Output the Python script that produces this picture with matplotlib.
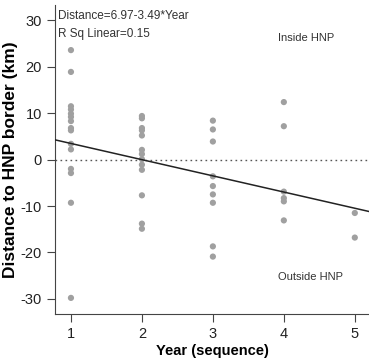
import numpy as np
import matplotlib.pyplot as plt

plt.rcParams['font.family'] = ['Liberation Sans', 'DejaVu Sans']
plt.rcParams['axes.unicode_minus'] = False

# values
year1 = [23.6, 18.9, 11.5, 10.8, 9.9, 9.2, 8.3, 6.8, 6.3, 3.4, 2.2, -2.0, -2.9, -9.3, -29.8]
year2 = [9.4, 8.9, 6.8, 6.3, 5.2, 2.1, 1.2, 0.1, -1.1, -2.2, -7.7, -13.8, -14.9]
year3 = [8.4, 6.5, 3.9, -3.6, -5.7, -7.5, -9.3, -18.7, -20.9]
year4 = [12.4, 7.2, -6.9, -8.3, -9.0, -13.1]
year5 = [-11.5, -16.8]
intercept = 6.97
slope = -3.49
r_sq = 0.15

groups = [year1, year2, year3, year4, year5]
xs = np.concatenate([[i + 1] * len(g) for i, g in enumerate(groups)])
ys = np.concatenate(groups)

fig = plt.figure(figsize=(3.69, 3.64), dpi=100)
ax = fig.add_axes([0.149, 0.137, 0.851, 0.849])

ax.scatter(xs, ys, s=20, color='#a0a0a0', edgecolors='none', zorder=3)
ax.axhline(0, color='#555555', lw=1, ls=(0, (1.2, 2.4)), zorder=2)

xl = (0.775, 5.2)
xx = np.array(xl)
ax.plot(xx, intercept + slope * xx, color='#222222', lw=1.1, zorder=4)

ax.set_xlim(xl)
ax.set_ylim(-33.3, 33.3)
ax.set_xticks([1, 2, 3, 4, 5])
ax.set_yticks([-30, -20, -10, 0, 10, 20, 30])

for s in ['top', 'right']:
    ax.spines[s].set_visible(False)
for s in ['left', 'bottom']:
    ax.spines[s].set_color('#444444')
    ax.spines[s].set_linewidth(0.8)
ax.tick_params(direction='out', length=6, width=0.8, color='#444444',
               labelsize=10.5, labelcolor='#222222')

ax.set_xlabel('Year (sequence)', fontsize=10.5, fontweight='bold', labelpad=2)
ax.set_ylabel('Distance to HNP border (km)', fontsize=12.5, fontweight='bold')
ax.yaxis.set_label_coords(-0.118, 0.5)

ax.text(0.01, 0.985, 'Distance=6.97-3.49*Year', transform=ax.transAxes,
        fontsize=8.5, color='#333333', va='top', ha='left')
ax.text(0.01, 0.925, 'R Sq Linear=%.2f' % r_sq, transform=ax.transAxes,
        fontsize=8.5, color='#333333', va='top', ha='left')
ax.text(3.92, 26.2, 'Inside HNP', fontsize=8, color='#333333', va='center', ha='left')
ax.text(3.92, -25.2, 'Outside HNP', fontsize=8, color='#333333', va='center', ha='left')

fig.savefig('out.png', dpi=100)
